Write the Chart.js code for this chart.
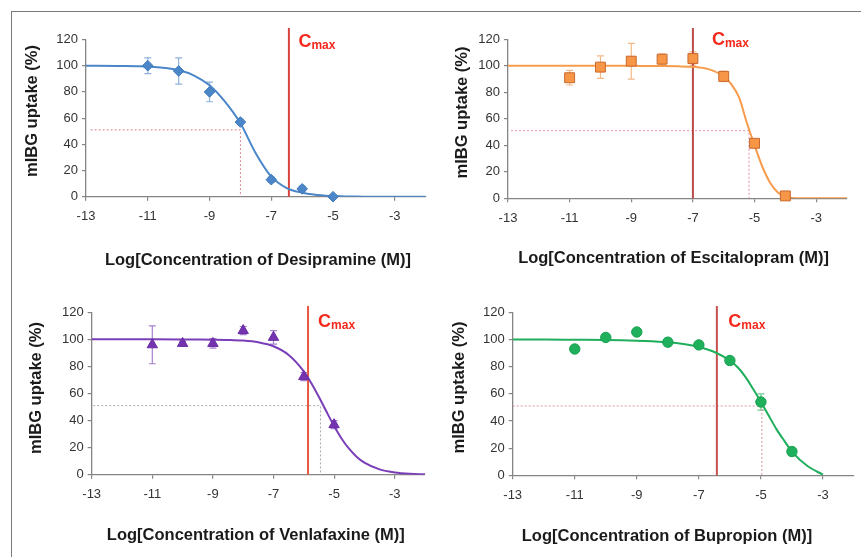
<!DOCTYPE html>
<html>
<head>
<meta charset="utf-8">
<script src="https://cdn.jsdelivr.net/npm/chart.js@4.4.1/dist/chart.umd.min.js"></script>
<style>
  body { margin: 0; background: #fff; width: 861px; height: 557px; overflow: hidden; position: relative; }
  #frame { position: absolute; left: 11px; top: 11px; width: 900px; height: 600px;
           border-left: 1px solid #7a7a7a; border-top: 1px solid #7a7a7a; }
  canvas { position: absolute; }
</style>
</head>
<body>
<div id="frame"></div>
<canvas id="c1" width="420" height="265" style="left:12px;top:12px"></canvas>
<canvas id="c2" width="427" height="265" style="left:434px;top:12px"></canvas>
<canvas id="c3" width="420" height="275" style="left:12px;top:282px"></canvas>
<canvas id="c4" width="427" height="275" style="left:434px;top:282px"></canvas>
<script>
// ===== DATA =====
const xTicks = [-13, -11, -9, -7, -5, -3];
const yTicks = [0, 20, 40, 60, 80, 100, 120];
const doseLog = [-11, -10, -9, -8, -7, -6, -5, -4];
const curveLog = [-13, -12, -11, -10, -9.5, -9, -8.5, -8, -7.5, -7, -6.5, -6,
                  -5.75, -5.5, -5.25, -5, -4.75, -4.5, -4.25, -4, -3.5, -3, -2.5, -2];
const halfLevel = 51;
const yTitle = "mIBG uptake (%)";

// Desipramine
const desiUptake = [100, 96, 80, 57, 13, 6, 0];
const desiErr = [6, 10, 7.5, 2, 2, 2, 0];
const desiCurve = [100, 99.8, 99.3, 96.5, 92.5, 85, 72.5, 56, 33, 15.3, 6.6, 3,
                   2, 1.3, 0.8, 0.5, 0.3, 0.2, 0.1, 0.05, 0, 0, 0, 0];
const desiCmax = -6.43;
const desiIC50 = -8.0;

// Escitalopram
const escUptake = [91, 99, 103.5, 105, 105.5, 92, 41.5, 1.8];
const escErr = [5.5, 8.5, 13.5, 4, 5, 4, 2, 1];
const escCurve = [100, 100, 100, 100, 100, 100, 99.9, 99.8, 99.6, 99.2, 97.5, 92,
                  86, 76, 57, 40, 24, 12, 4.5, 1, 0, 0, 0, 0];
const escCmax = -7.0;
const escIC50 = -5.18;

// Venlafaxine
const venUptake = [96, 97, 97, 106.5, 101.5, 72.5, 37];
const venErr = [14, 1.5, 3.5, 3, 5, 3, 3];
const venCurve = [100, 100, 100, 99.97, 99.9, 99.8, 99.6, 99.1, 97.8, 94.9, 88.5, 76.4,
                  67.6, 57.4, 46.5, 36, 26.6, 19, 13.1, 8.9, 3.9, 1.7, 0.7, 0.3];
const venCmax = -5.86;
const venIC50 = -5.45;

// Bupropion
const bupUptake = [93, 101.5, 105.5, 98, 96, 84.5, 54, 17.5];
const bupErr = [1, 1, 1, 3, 1, 1, 6, 1];
const bupCurve = [100, 100, 99.8, 99.6, 99.4, 99.1, 98.6, 97.9, 96.6, 94.5, 90.8, 84.5,
                  79.5, 72.5, 63.5, 54, 44, 34, 25.5, 17.5, 6.8, 0.5, null, null];
const bupCmax = -6.42;
const bupIC50 = -4.97;

// ===== PANELS (layout + style) =====
const FONT = "'Liberation Sans', Arial, Helvetica, sans-serif";
Chart.defaults.font.family = FONT;

const panels = [
  { id: "c1", drug: "Desipramine", uptake: desiUptake, err: desiErr, curve: desiCurve,
    cmax: desiCmax, ic50: desiIC50, guideFrom: -12.85, cmaxTop: 128.8,
    box: { left: 12, top: 12, w: 420, h: 265 }, area: { l: 86, t: 39.5, r: 430, b: 196.7 },
    xTitleAt: [258, 260], yTitleAt: [32, 111], labelDx: 9.5, labelDy: 7.2,
    color: "#4a86c8", markColor: "#4a86c8", markBorder: "#3f78b8", errColor: "#8fb2da",
    style: "rectRot", radius: 5.3, guideColor: "#e0808f", cmaxColor: "#d8443c" },
  { id: "c2", drug: "Escitalopram", uptake: escUptake, err: escErr, curve: escCurve,
    cmax: escCmax, ic50: escIC50, guideFrom: -12.9, cmaxTop: 128.5,
    box: { left: 434, top: 12, w: 427, h: 265 }, area: { l: 508, t: 39.3, r: 847, b: 198.3 },
    xTitleAt: [673.5, 258], yTitleAt: [462.5, 112.5], labelDx: 19, labelDy: 5.7,
    color: "#f79c4c", markColor: "#f79646", markBorder: "#c8682e", errColor: "#f5b886",
    style: "rect", radius: 7, guideColor: "#e58ca8", cmaxColor: "#b94a4a" },
  { id: "c3", drug: "Venlafaxine", uptake: venUptake, err: venErr, curve: venCurve,
    cmax: venCmax, ic50: venIC50, guideFrom: -12.95, cmaxTop: 124.7,
    box: { left: 12, top: 282, w: 420, h: 275 }, area: { l: 91.7, t: 312.3, r: 426, b: 474.7 },
    xTitleAt: [255.8, 535], yTitleAt: [36.7, 388], labelDx: 10, labelDy: 14.4,
    color: "#7a3fb8", markColor: "#7434b0", markBorder: "#6a2ca4", errColor: "#a581cf",
    style: "triangle", radius: 6, guideColor: "#b0a4ac", cmaxColor: "#e8553f" },
  { id: "c4", drug: "Bupropion", uptake: bupUptake, err: bupErr, curve: bupCurve,
    cmax: bupCmax, ic50: bupIC50, guideFrom: -13, cmaxTop: 124.6,
    box: { left: 434, top: 282, w: 427, h: 275 }, area: { l: 512.7, t: 312.3, r: 854, b: 475.3 },
    xTitleAt: [667, 536.7], yTitleAt: [459, 387.5], labelDx: 11.5, labelDy: 14.4,
    color: "#1fae5c", markColor: "#1fb05c", markBorder: "#18a050", errColor: "#6ccb92",
    style: "circle", radius: 5.2, guideColor: "#e0909a", cmaxColor: "#c4504e" }
];

// ===== PLUGIN: error bars, Cmax label, axis titles =====
function decorPlugin(p) {
  return {
    id: "decor_" + p.id,
    beforeDatasetsDraw(chart) {
      const { ctx, scales: { x, y } } = chart;
      ctx.save();
      ctx.strokeStyle = p.errColor;
      ctx.lineWidth = 1.2;
      p.uptake.forEach((v, i) => {
        const e = p.err[i];
        if (!e) return;
        const px = x.getPixelForValue(doseLog[i]);
        const top = y.getPixelForValue(v + e);
        const bot = y.getPixelForValue(v - e);
        ctx.beginPath();
        ctx.moveTo(px, top); ctx.lineTo(px, bot);
        ctx.moveTo(px - 3.5, top); ctx.lineTo(px + 3.5, top);
        ctx.moveTo(px - 3.5, bot); ctx.lineTo(px + 3.5, bot);
        ctx.stroke();
      });
      ctx.restore();
    },
    afterDatasetsDraw(chart) {
      const { ctx, chartArea, scales: { x } } = chart;
      // Cmax label
      const lx = x.getPixelForValue(p.cmax) + p.labelDx;
      const ly = chartArea.top + p.labelDy;
      ctx.save();
      ctx.fillStyle = "#f5281c";
      ctx.textBaseline = "alphabetic";
      ctx.textAlign = "left";
      ctx.font = "bold 18px " + FONT;
      ctx.fillText("C", lx, ly);
      const w = ctx.measureText("C").width;
      ctx.font = "bold 12px " + FONT;
      ctx.fillText("max", lx + w, ly + 2);

      // axis titles
      ctx.fillStyle = "#1a1a1a";
      ctx.font = "bold 16.5px " + FONT;
      ctx.textAlign = "center";
      ctx.textBaseline = "middle";
      ctx.fillText("Log[Concentration of " + p.drug + " (M)]",
                   p.xTitleAt[0] - p.box.left, p.xTitleAt[1] - p.box.top);
      ctx.translate(p.yTitleAt[0] - p.box.left, p.yTitleAt[1] - p.box.top);
      ctx.rotate(-Math.PI / 2);
      ctx.fillText(yTitle, 0, 0);
      ctx.restore();
    }
  };
}

// ===== BUILD =====
function buildChart(p) {
  const ctx = document.getElementById(p.id).getContext("2d");
  const yWidth = p.area.l - p.box.left;
  const xHeight = p.box.top + p.box.h - p.area.b;
  const axisColor = "#858585";

  const scaleBase = {
    type: "linear",
    grid: { display: true, drawOnChartArea: false, drawTicks: true, tickLength: 4,
            color: axisColor, lineWidth: 1.2 },
    border: { display: true, color: axisColor, width: 1.3 },
    title: { display: false }
  };

  return new Chart(ctx, {
    type: "scatter",
    data: {
      datasets: [
        {
          label: p.drug,
          data: p.uptake.map((v, i) => ({ x: doseLog[i], y: v })),
          pointStyle: p.style,
          pointRadius: p.radius,
          backgroundColor: p.markColor,
          borderColor: p.markBorder,
          borderWidth: 1,
          showLine: false,
          clip: false
        },
        {
          label: "fit",
          data: curveLog.map((x, i) => ({ x, y: p.curve[i] })),
          showLine: true,
          pointRadius: 0,
          borderColor: p.color,
          borderWidth: 2,
          cubicInterpolationMode: "monotone",
          spanGaps: false
        },
        {
          label: "Cmax",
          data: [{ x: p.cmax, y: 0 }, { x: p.cmax, y: p.cmaxTop }],
          showLine: true,
          pointRadius: 0,
          borderColor: p.cmaxColor,
          borderWidth: 2,
          clip: false
        },
        {
          label: "IC50",
          data: [{ x: p.guideFrom, y: halfLevel }, { x: p.ic50, y: halfLevel }, { x: p.ic50, y: 0 }],
          showLine: true,
          pointRadius: 0,
          borderColor: p.guideColor,
          borderWidth: 1,
          borderDash: [2, 2]
        }
      ]
    },
    options: {
      responsive: false,
      animation: false,
      devicePixelRatio: 1,
      layout: { padding: { left: 0, top: p.area.t - p.box.top, right: p.box.left + p.box.w - p.area.r, bottom: 0 } },
      plugins: { legend: { display: false }, tooltip: { enabled: false } },
      scales: {
        x: {
          ...scaleBase,
          min: -13, max: -2,
          afterBuildTicks: axis => { axis.ticks = xTicks.map(v => ({ value: v })); },
          afterFit: axis => { axis.height = xHeight; },
          ticks: { color: "#333", font: { size: 13 }, padding: 8, maxRotation: 0 }
        },
        y: {
          ...scaleBase,
          min: 0, max: 120,
          afterBuildTicks: axis => { axis.ticks = yTicks.map(v => ({ value: v })); },
          afterFit: axis => { axis.width = yWidth; },
          ticks: { color: "#333", font: { size: 13 }, padding: 4 }
        }
      }
    },
    plugins: [decorPlugin(p)]
  });
}

panels.forEach(buildChart);
</script>
</body>
</html>
